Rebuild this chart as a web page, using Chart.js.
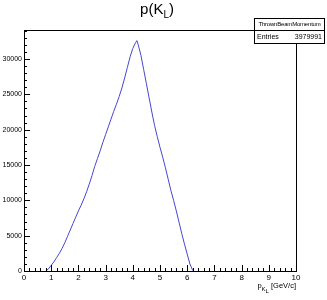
<!DOCTYPE html>
<html>
<head>
<meta charset="utf-8">
<script src="https://cdn.jsdelivr.net/npm/chart.js@4/dist/chart.umd.min.js"></script>
<style>
body{margin:0;background:#fff;font-family:"Liberation Sans",Arial,sans-serif;}
#wrap{position:relative;width:327px;height:300px;}
#title{position:absolute;left:0;width:314px;top:0;text-align:center;font-size:15px;line-height:17px;}
#title sub{font-size:10px;}
#stats{position:absolute;left:254px;top:18px;width:69px;height:24px;border:1px solid #000;background:#fff;}
#stats .r1{height:11px;line-height:11px;text-align:center;border-bottom:1px solid #000;font-size:6px;letter-spacing:-0.2px;white-space:nowrap;overflow:hidden;}
#stats .r2{height:12px;line-height:12px;padding:0 2px;display:flex;justify-content:space-between;font-size:7px;}
#xt{position:absolute;right:31px;top:281px;font-size:7.5px;line-height:9px;white-space:nowrap;}
#xt sub{font-size:6px;}
</style>
</head>
<body>
<div id="wrap">
<canvas id="c" width="327" height="300"></canvas>
<div id="title">p(K<sub>L</sub>)</div>
<div id="stats"><div class="r1">ThrownBeamMomentum</div><div class="r2"><span>Entries</span><span>3979991</span></div></div>
<div id="xt">p<sub>K<sub>L</sub></sub> [GeV/c]</div>
</div>
<script>
// p(K_L) histogram
const momentum=[0.8,0.9,1.0,1.1,1.2,1.3,1.4,1.5,1.6,1.7,1.8,1.9,2.0,2.1,2.2,2.3,2.4,2.5,2.6,2.7,2.8,2.9,3.0,3.1,3.2,3.3,3.4,3.5,3.6,3.7,3.8,3.9,4.0,4.1,4.15,4.2,4.3,4.4,4.5,4.6,4.7,4.8,4.9,5.0,5.1,5.2,5.3,5.4,5.5,5.6,5.7,5.8,5.9,6.0,6.1,6.2,6.25];
const counts=[0,300,800,1300,1900,2500,3200,4000,4900,5800,6700,7600,8500,9300,10200,11200,12300,13500,14800,15900,17000,18200,19300,20400,21500,22600,23600,24700,25900,27300,28800,30300,31500,32300,32600,32000,30500,28500,26500,24500,22500,20600,19000,17500,16100,14600,13000,11400,10000,8500,6900,5300,3800,2400,1000,100,0];
const xTicks=[0,1,2,3,4,5,6,7,8,9,10];
const yTicks=[0,5000,10000,15000,20000,25000,30000];
const yMax=34100;

const frame={id:'frame',afterDraw(ch){
 const a=ch.chartArea,ctx=ch.ctx,xs=ch.scales.x,ys=ch.scales.y;
 ctx.save();ctx.strokeStyle='#000';ctx.lineWidth=1;
 ctx.strokeRect(Math.round(a.left)+0.5,Math.round(a.top)+0.5,Math.round(a.right-a.left),Math.round(a.bottom-a.top));
 ctx.beginPath();
 for(let v=0;v<=10.001;v+=0.2){
  const p=Math.round(xs.getPixelForValue(v))+0.5;
  const major=Math.abs(v-Math.round(v))<0.01;
  ctx.moveTo(p,a.bottom);ctx.lineTo(p,a.bottom-(major?6:3));
 }
 for(let v=0;v<=yMax;v+=1000){
  const p=Math.round(ys.getPixelForValue(v))+0.5;
  const major=v%5000===0;
  ctx.moveTo(a.left,p);ctx.lineTo(a.left+(major?6:3),p);
 }
 ctx.stroke();ctx.restore();
}};

new Chart(document.getElementById('c'),{
 type:'line',
 data:{datasets:[{data:momentum.map((m,i)=>({x:m,y:counts[i]})),borderColor:'#4646d2',borderWidth:1,pointRadius:0,tension:0,fill:false}]},
 options:{
  responsive:false,animation:false,
  layout:{padding:{top:30,right:31,left:0,bottom:0}},
  plugins:{legend:{display:false},tooltip:{enabled:false}},
  scales:{
   x:{type:'linear',min:0,max:10,
    afterBuildTicks:s=>{s.ticks=xTicks.map(v=>({value:v}));},
    afterFit:s=>{s.height=29;},
    grid:{display:false,drawTicks:false,tickLength:0},border:{display:false},
    ticks:{color:'#000',font:{size:8,family:'Liberation Sans'},padding:2,maxRotation:0,autoSkip:false,callback:v=>String(v)}},
   y:{type:'linear',min:0,max:yMax,
    afterBuildTicks:s=>{s.ticks=yTicks.map(v=>({value:v}));},
    afterFit:s=>{s.width=24;},
    grid:{display:false,drawTicks:false,tickLength:0},border:{display:false},
    ticks:{color:'#000',font:{size:7,family:'Liberation Sans'},padding:2,autoSkip:false,callback:v=>String(v)}}
  }
 },
 plugins:[frame]
});
</script>
</body>
</html>
